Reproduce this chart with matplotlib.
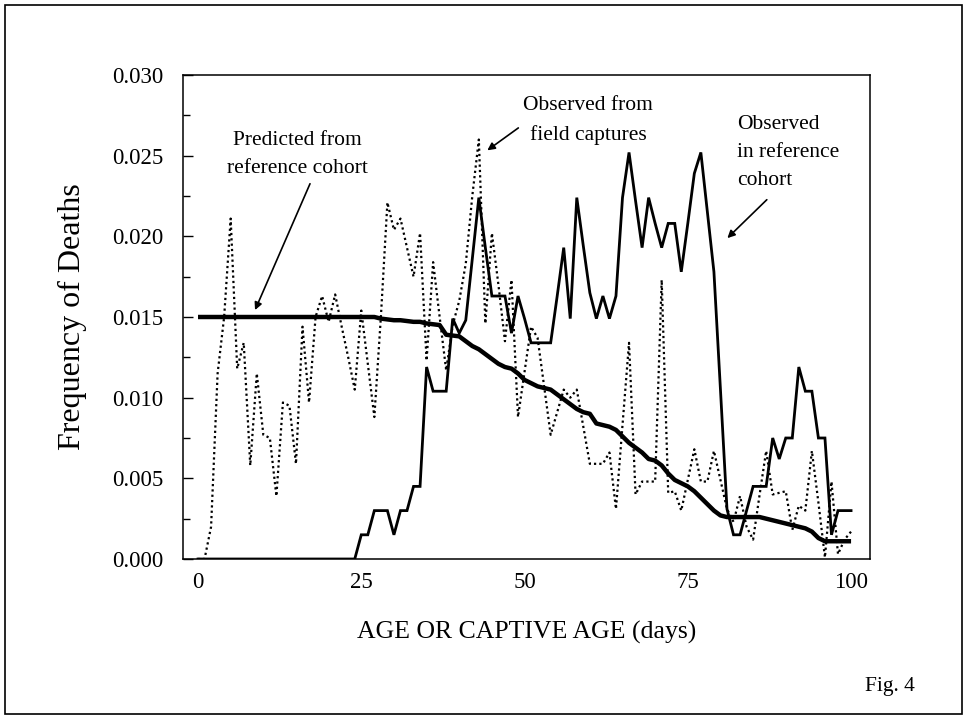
import matplotlib
matplotlib.use("Agg")
import matplotlib.pyplot as plt
import matplotlib.patches as mpatches
import numpy as np

plt.rcParams['font.family'] = ['Liberation Serif', 'DejaVu Serif']

days = list(range(0, 101))

# Predicted from reference cohort (thick line)
predicted = [0.0150] * 28 + [
    0.0149, 0.01485, 0.0148, 0.0148, 0.01475, 0.0147, 0.0147, 0.0146, 0.01455, 0.0145,   # 28-37
    0.0139, 0.01385, 0.0138, 0.0135, 0.0132, 0.0130, 0.0127, 0.0124, 0.0121, 0.0119,     # 38-47
    0.0118, 0.0115, 0.0111, 0.0109, 0.0107, 0.0106, 0.0105, 0.0102, 0.0099, 0.0096,      # 48-57
    0.0093, 0.0091, 0.0090, 0.0084, 0.0083, 0.0082, 0.0080, 0.0076, 0.0072, 0.0069,      # 58-67
    0.0066, 0.0062, 0.0061, 0.0058, 0.0053, 0.0049, 0.0047, 0.0045, 0.0042, 0.0038,      # 68-77
    0.0034, 0.0030, 0.0027, 0.0026, 0.0026, 0.0026, 0.0026, 0.0026, 0.0026, 0.0025,      # 78-87
    0.0024, 0.0023, 0.0022, 0.0021, 0.0020, 0.0019, 0.0017, 0.0013, 0.0011, 0.0011,      # 88-97
    0.0011, 0.0011, 0.0011]                                                              # 98-100

# Observed in reference cohort (thin solid line)
observed_ref = [0.0] * 25 + [
    0.0015, 0.0015, 0.0030, 0.0030, 0.0030, 0.0015, 0.0030, 0.0030, 0.0045, 0.0045,     # 25-34
    0.0119, 0.0104, 0.0104, 0.0104, 0.0149, 0.0140, 0.0148, 0.0186, 0.0224, 0.0193,     # 35-44
    0.0163, 0.0163, 0.0163, 0.0140, 0.0163, 0.0149, 0.0134, 0.0134, 0.0134, 0.0134,     # 45-54
    0.0163, 0.0193, 0.0149, 0.0224, 0.0194, 0.0165, 0.0149, 0.0163, 0.0149, 0.0163,     # 55-64
    0.0224, 0.0252, 0.0222, 0.0193, 0.0224, 0.0208, 0.0193, 0.0208, 0.0208, 0.0178,     # 65-74
    0.0208, 0.0239, 0.0252, 0.0215, 0.0178, 0.0105, 0.0031, 0.0015, 0.0015, 0.0030,     # 75-84
    0.0045, 0.0045, 0.0045, 0.0075, 0.0062, 0.0075, 0.0075, 0.0119, 0.0104, 0.0104,     # 85-94
    0.0075, 0.0075, 0.0015, 0.0030, 0.0030, 0.0030]                                     # 95-100

# Observed from field captures (dotted line)
observed_field = [
    0.0000, 0.0000, 0.0020, 0.0115, 0.0150, 0.0211, 0.0118, 0.0134, 0.0058, 0.0115,     # 0-9
    0.0077, 0.0075, 0.0039, 0.0097, 0.0095, 0.0059, 0.0144, 0.0097, 0.0150, 0.0163,     # 10-19
    0.0147, 0.0164, 0.0144, 0.0125, 0.0105, 0.0154, 0.0121, 0.0088, 0.0150, 0.0221,     # 20-29
    0.0204, 0.0211, 0.0193, 0.0175, 0.0202, 0.0123, 0.0184, 0.0150, 0.0117, 0.0145,     # 30-39
    0.0160, 0.0183, 0.0225, 0.0260, 0.0146, 0.0202, 0.0170, 0.0135, 0.0173, 0.0088,     # 40-49
    0.0116, 0.0144, 0.0137, 0.0107, 0.0077, 0.0091, 0.0105, 0.0100, 0.0105, 0.0082,     # 50-59
    0.0059, 0.0059, 0.0059, 0.0066, 0.0031, 0.0083, 0.0134, 0.0040, 0.0048, 0.0048,     # 60-69
    0.0048, 0.0173, 0.0041, 0.0042, 0.0030, 0.0049, 0.0068, 0.0048, 0.0048, 0.0067,     # 70-79
    0.0049, 0.0031, 0.0023, 0.0039, 0.0020, 0.0012, 0.0040, 0.0067, 0.0040, 0.0041,     # 80-89
    0.0042, 0.0018, 0.0033, 0.0030, 0.0067, 0.0035, 0.0001, 0.0048, 0.0003, 0.0012,     # 90-99
    0.0017]                                                                             # 100

xticks = [0, 25, 50, 75, 100]
yticks = [0.000, 0.005, 0.010, 0.015, 0.020, 0.025, 0.030]

W, H = 967, 719
fig = plt.figure(figsize=(W / 100, H / 100), dpi=100)
ax = fig.add_axes([183 / W, 1 - 559 / H, (870 - 183) / W, (559 - 75) / H])

ax.plot(days, observed_field, color='black', lw=1.6, linestyle=(0, (1, 1.4)), zorder=2)
ax.plot(days, observed_ref, color='black', lw=2.0, solid_joinstyle='miter', zorder=3)
ax.plot(days, predicted, color='black', lw=3.2, solid_capstyle='butt', zorder=4)

ax.set_xlim(-2.3, 102.9)
ax.set_ylim(0, 0.030)
ax.set_xticks(xticks)
ax.set_xticklabels([str(t) for t in xticks])
ax.set_yticks(yticks)
ax.set_yticklabels([f"{t:.3f}" for t in yticks])
ax.set_yticks(np.arange(0.0025, 0.030, 0.005), minor=True)
ax.tick_params(axis='x', length=0, labelsize=16.5, pad=9)
ax.tick_params(axis='y', which='major', direction='in', length=7, width=1, labelsize=16.5, pad=14)
ax.tick_params(axis='y', which='minor', direction='in', length=5, width=1)
for s in ax.spines.values():
    s.set_linewidth(1.1)

ax.set_ylabel("Frequency of Deaths", fontsize=23)
ax.yaxis.set_label_coords((72 - 183) / (870 - 183), 0.5)
ax.set_xlabel("AGE OR CAPTIVE AGE (days)", fontsize=18.5)
ax.xaxis.set_label_coords(0.5, -(632 - 559) / (559 - 75))
ax.xaxis.label.set_verticalalignment('center')
ax.yaxis.label.set_verticalalignment('center')

arrow = dict(arrowstyle='-|>', color='black', lw=1.2, mutation_scale=11, shrinkA=0, shrinkB=0)
fs = 15.5
ls = 1.65
ax.annotate("", xy=(8.73, 0.01543), xytext=(17.15, 0.02326), arrowprops=arrow)
ax.text(15.16, 0.02506, "Predicted from\nreference cohort", ha='center', va='center',
        fontsize=fs, linespacing=ls)
ax.annotate("", xy=(44.3, 0.02533), xytext=(49.05, 0.02672), arrowprops=arrow)
ax.text(59.7, 0.02717, "Observed from\nfield captures", ha='center', va='center',
        fontsize=fs, linespacing=ls)
ax.annotate("", xy=(81.06, 0.01989), xytext=(87.1, 0.02227), arrowprops=arrow)
ax.text(82.5, 0.02519, "Observed\nin reference\ncohort", ha='left', va='center',
        fontsize=fs, linespacing=ls, multialignment='left')

fig.text(915 / W, 1 - 686 / H, "Fig. 4", ha='right', va='center', fontsize=fs)

fig.patches.append(mpatches.Rectangle((5 / W, 5 / H), (962 - 5) / W, (714 - 5) / H,
                                      transform=fig.transFigure, fill=False,
                                      edgecolor='black', lw=1.2))

fig.savefig("out.png", dpi=100)
